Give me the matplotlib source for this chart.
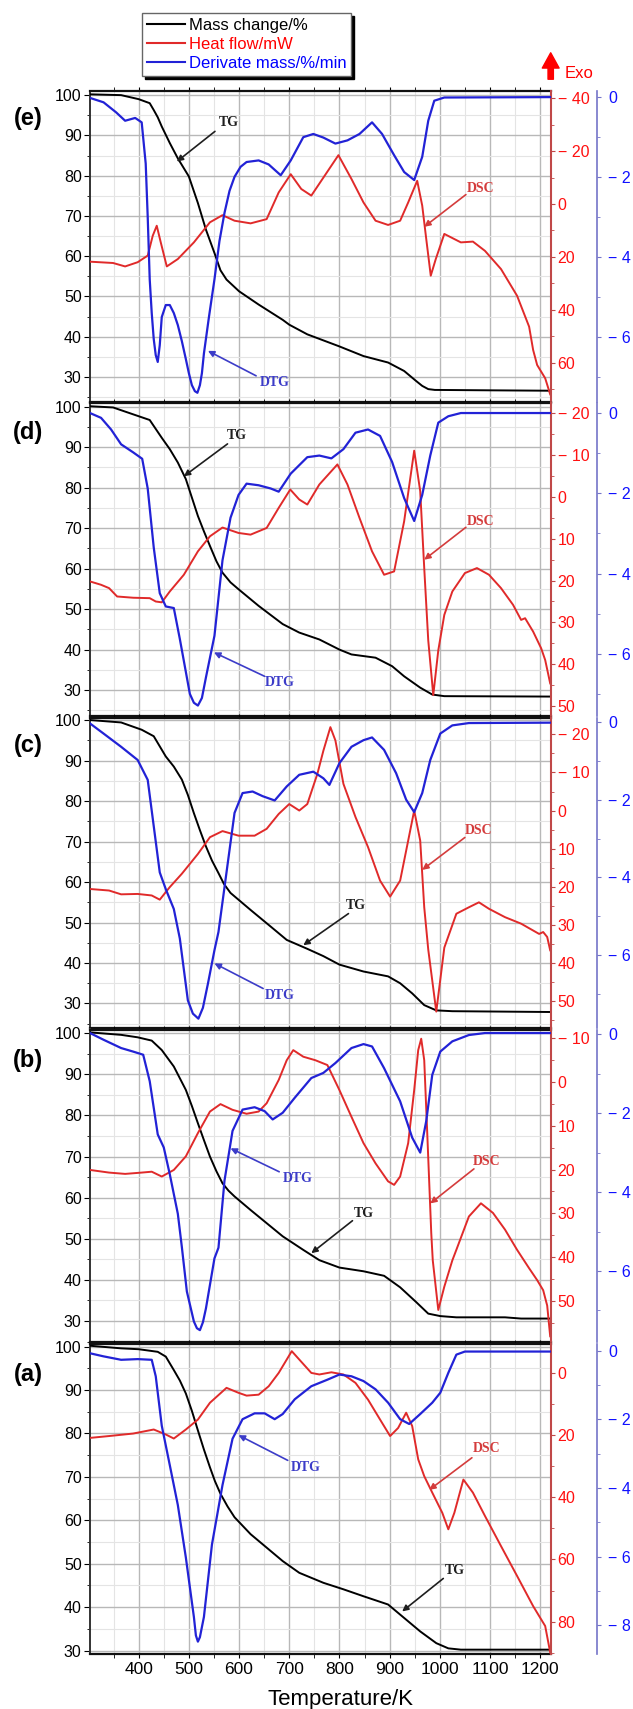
import matplotlib
matplotlib.use('Agg')
import matplotlib.pyplot as plt
from matplotlib.lines import Line2D
from matplotlib.patches import FancyArrowPatch
from matplotlib.ticker import MultipleLocator, FixedLocator, FuncFormatter

plt.rcParams['font.family'] = ['Liberation Sans', 'DejaVu Sans']

# ---- data (temperature in K) ----
# panel (e)
e_tg_x = [303, 365, 400, 422, 430, 438, 446, 462, 478, 500, 518, 534, 551, 563, 575, 600, 639, 687, 700, 736, 800, 848, 897, 929, 953, 965, 977, 990, 1100, 1221]
e_tg_y = [100.2, 100, 99.0, 98.0, 96.3, 94.5, 92.2, 88.1, 84.3, 79.8, 73.2, 66.6, 60.8, 56.5, 54.2, 51.3, 48.0, 44.2, 43.0, 40.6, 37.6, 35.2, 33.6, 31.5, 29.0, 27.8, 27.0, 26.8, 26.7, 26.6]
e_dsc_x = [303, 349, 373, 398, 418, 428, 436, 444, 456, 478, 510, 542, 567, 591, 623, 655, 679, 703, 724, 744, 768, 798, 824, 848, 872, 897, 921, 937, 955, 965, 973, 982, 992, 1009, 1042, 1066, 1090, 1122, 1154, 1178, 1186, 1194, 1210, 1220]
e_dsc_y = [21.8, 22.3, 23.6, 22.0, 19.5, 12.0, 8.2, 14.5, 23.6, 20.8, 14.5, 6.9, 4.2, 6.3, 7.3, 5.7, -4.4, -11.3, -5.7, -3.2, -10.0, -18.5, -9.5, -0.6, 6.3, 7.9, 6.3, -0.6, -8.8, 0.6, 13.2, 27.1, 20.8, 11.3, 14.5, 14.2, 17.7, 24.6, 34.7, 46.4, 55.2, 60.9, 65.9, 72.0]
e_dtg_x = [303, 330, 355, 373, 393, 406, 414, 418, 422, 426, 430, 434, 438, 442, 446, 454, 462, 470, 478, 486, 494, 500, 506, 512, 517, 522, 526, 530, 540, 551, 561, 571, 581, 591, 603, 615, 639, 659, 683, 703, 728, 748, 768, 792, 816, 840, 865, 885, 909, 929, 949, 965, 977, 989, 1009, 1221]
e_dtg_y = [-0.03, -0.14, -0.39, -0.6, -0.53, -0.64, -1.67, -3.0, -4.56, -5.4, -6.05, -6.45, -6.62, -6.2, -5.5, -5.2, -5.2, -5.4, -5.7, -6.1, -6.55, -6.9, -7.2, -7.35, -7.39, -7.2, -6.9, -6.41, -5.5, -4.56, -3.6, -2.9, -2.35, -2.0, -1.75, -1.63, -1.59, -1.69, -1.96, -1.59, -1.01, -0.93, -1.02, -1.17, -1.09, -0.93, -0.64, -0.93, -1.46, -1.88, -2.08, -1.5, -0.6, -0.1, -0.02, -0.01]

# panel (d)
d_tg_x = [303, 349, 389, 422, 446, 462, 478, 494, 518, 530, 542, 555, 567, 583, 599, 639, 687, 720, 760, 800, 824, 872, 905, 929, 961, 985, 1009, 1221]
d_tg_y = [100.1, 99.8, 98.1, 96.7, 92.3, 89.5, 86.2, 82.1, 73.0, 69.2, 65.6, 61.8, 59.0, 56.6, 54.9, 50.8, 46.3, 44.2, 42.5, 40.0, 38.8, 38.0, 35.9, 33.4, 30.6, 28.9, 28.5, 28.4]
d_dsc_x = [303, 325, 341, 357, 389, 422, 434, 446, 462, 490, 518, 542, 567, 599, 623, 655, 679, 702, 720, 736, 760, 796, 816, 840, 865, 889, 909, 929, 949, 961, 969, 977, 987, 997, 1009, 1025, 1050, 1074, 1098, 1122, 1146, 1162, 1170, 1186, 1202, 1210, 1220]
d_dsc_y = [20.2, 21.0, 21.8, 23.8, 24.1, 24.2, 25.0, 25.2, 22.6, 18.6, 13.0, 9.4, 7.3, 8.6, 9.0, 7.4, 2.6, -1.8, 0.6, 1.8, -3.0, -7.8, -3.0, 5.0, 13.0, 18.6, 17.8, 5.8, -11.1, -1.4, 17.0, 34.3, 47.4, 36.7, 28.2, 22.6, 18.2, 17.0, 18.6, 21.8, 25.8, 29.4, 29.0, 32.2, 36.2, 39.0, 44.6]
d_dtg_x = [303, 325, 345, 365, 389, 407, 418, 430, 442, 454, 470, 482, 502, 510, 518, 526, 534, 551, 567, 583, 599, 615, 639, 663, 679, 703, 736, 760, 784, 808, 832, 857, 881, 905, 929, 949, 965, 981, 997, 1017, 1042, 1221]
d_dtg_y = [0.0, -0.12, -0.41, -0.78, -0.98, -1.14, -1.88, -3.35, -4.49, -4.82, -4.86, -5.63, -7.0, -7.22, -7.29, -7.1, -6.59, -5.55, -3.67, -2.61, -2.04, -1.76, -1.8, -1.88, -1.96, -1.51, -1.1, -1.06, -1.13, -0.9, -0.49, -0.41, -0.57, -1.22, -2.12, -2.69, -2.04, -1.06, -0.24, -0.08, 0.0, 0.0]

# panel (c)
c_tg_x = [303, 365, 406, 430, 454, 470, 486, 498, 510, 522, 534, 546, 559, 570, 583, 623, 663, 695, 736, 768, 800, 848, 897, 921, 945, 969, 993, 1025, 1221]
c_tg_y = [100.0, 99.4, 97.6, 96.0, 91.0, 88.5, 85.3, 81.5, 77.0, 72.8, 68.8, 65.3, 62.2, 59.5, 57.3, 53.1, 49.0, 45.7, 43.5, 41.7, 39.6, 37.9, 36.7, 35.0, 32.5, 29.6, 28.3, 28.1, 27.9]
c_dsc_x = [303, 341, 365, 398, 426, 442, 462, 486, 518, 542, 567, 599, 631, 655, 679, 700, 720, 736, 756, 768, 782, 792, 808, 832, 857, 881, 901, 921, 937, 949, 961, 969, 977, 993, 1009, 1033, 1058, 1078, 1098, 1130, 1162, 1186, 1198, 1206, 1214, 1220]
c_dsc_y = [20.6, 21.0, 22.0, 21.9, 22.3, 23.4, 20.1, 16.6, 11.4, 7.0, 5.4, 6.6, 6.6, 4.8, 0.9, -1.7, 0.0, -1.7, -9.6, -15.7, -21.9, -18.4, -7.0, 1.7, 9.6, 18.4, 22.6, 18.4, 7.9, 0.0, 7.9, 25.4, 36.5, 52.8, 36.0, 27.1, 25.4, 24.1, 25.8, 28.0, 29.7, 31.5, 32.4, 31.9, 33.2, 36.7]
c_dtg_x = [303, 330, 365, 398, 418, 430, 442, 454, 470, 482, 498, 508, 519, 528, 538, 551, 559, 575, 591, 607, 627, 647, 671, 695, 720, 748, 768, 780, 800, 824, 848, 865, 889, 913, 933, 949, 965, 981, 1001, 1025, 1058, 1221]
c_dtg_y = [-0.04, -0.3, -0.64, -0.98, -1.49, -2.68, -3.87, -4.3, -4.81, -5.57, -7.16, -7.5, -7.63, -7.35, -6.73, -5.87, -5.4, -3.87, -2.34, -1.83, -1.79, -1.91, -2.02, -1.66, -1.36, -1.28, -1.45, -1.62, -1.06, -0.64, -0.47, -0.4, -0.72, -1.32, -2.0, -2.32, -1.83, -0.98, -0.3, -0.09, -0.03, -0.02]

# panel (b)
b_tg_x = [303, 365, 398, 426, 446, 470, 494, 506, 518, 530, 542, 555, 567, 579, 591, 623, 655, 687, 728, 760, 800, 848, 889, 921, 953, 977, 1001, 1033, 1130, 1162, 1221]
b_tg_y = [100.2, 99.6, 99.0, 98.2, 95.9, 91.9, 86.2, 82.3, 78.1, 74.0, 70.0, 66.4, 63.5, 61.7, 60.3, 57.0, 53.8, 50.6, 47.3, 44.8, 43.0, 42.1, 41.0, 38.2, 34.6, 31.8, 31.2, 30.9, 30.9, 30.6, 30.6]
b_dsc_x = [303, 341, 373, 406, 426, 446, 470, 494, 518, 542, 563, 587, 615, 639, 655, 679, 695, 708, 728, 752, 776, 800, 824, 848, 872, 897, 909, 921, 937, 949, 957, 963, 969, 975, 983, 986, 997, 1009, 1025, 1033, 1058, 1082, 1106, 1130, 1154, 1178, 1194, 1206, 1214, 1220]
b_dsc_y = [20.1, 20.7, 21.0, 20.7, 20.5, 21.6, 20.1, 17.0, 11.7, 6.8, 5.1, 6.4, 7.3, 6.8, 4.9, -0.4, -4.9, -7.2, -5.7, -4.9, -3.8, 1.9, 8.0, 14.0, 18.6, 22.7, 23.5, 21.6, 14.0, 1.9, -7.2, -9.8, -4.9, 11.7, 34.5, 40.7, 52.0, 46.7, 40.7, 38.3, 30.7, 27.7, 29.9, 33.7, 38.3, 42.5, 45.2, 47.5, 51.0, 58.0]
b_dtg_x = [303, 330, 365, 389, 409, 422, 438, 450, 462, 478, 486, 496, 510, 516, 522, 528, 534, 551, 559, 571, 587, 607, 631, 651, 667, 687, 711, 744, 768, 792, 824, 848, 865, 889, 921, 945, 961, 973, 985, 1001, 1025, 1058, 1090, 1221]
b_dtg_y = [0.03, -0.14, -0.35, -0.44, -0.52, -1.19, -2.54, -2.87, -3.55, -4.55, -5.39, -6.52, -7.28, -7.45, -7.5, -7.3, -6.95, -5.68, -5.41, -3.71, -2.45, -1.91, -1.85, -1.95, -2.16, -1.99, -1.61, -1.11, -0.98, -0.73, -0.35, -0.25, -0.31, -0.86, -1.7, -2.62, -3.0, -2.2, -1.03, -0.44, -0.18, -0.02, 0.03, 0.03]

# panel (a)
a_tg_x = [303, 365, 400, 438, 454, 470, 482, 494, 506, 518, 530, 542, 552, 563, 577, 591, 623, 655, 687, 720, 768, 808, 848, 897, 929, 961, 993, 1017, 1042, 1221]
a_tg_y = [100.2, 99.6, 99.4, 98.8, 97.7, 94.6, 92.2, 89.2, 85.2, 80.7, 76.3, 72.2, 69.0, 66.1, 63.2, 60.7, 56.8, 53.7, 50.6, 47.9, 45.6, 44.1, 42.5, 40.6, 37.5, 34.4, 31.7, 30.5, 30.2, 30.2]
a_dsc_x = [303, 341, 389, 430, 454, 470, 494, 518, 542, 575, 599, 615, 639, 659, 679, 695, 705, 720, 744, 760, 784, 808, 832, 857, 881, 901, 917, 933, 945, 957, 969, 985, 1005, 1017, 1029, 1047, 1066, 1090, 1122, 1154, 1186, 1210, 1220]
a_dsc_y = [20.9, 20.3, 19.5, 18.2, 19.8, 21.1, 18.2, 15.0, 9.6, 4.8, 6.4, 7.3, 7.0, 4.3, 0.0, -4.3, -7.0, -4.3, 0.0, 0.5, -0.2, 0.5, 3.2, 8.6, 15.0, 20.3, 17.7, 12.8, 17.1, 27.8, 33.2, 38.5, 45.0, 50.3, 45.0, 34.3, 38.5, 46.0, 55.7, 65.3, 75.0, 81.4, 89.9]
a_dtg_x = [303, 330, 365, 398, 426, 434, 446, 462, 478, 494, 510, 514, 518, 522, 530, 546, 567, 587, 607, 631, 651, 671, 687, 711, 744, 776, 800, 824, 848, 872, 897, 921, 939, 961, 985, 1001, 1017, 1033, 1050, 1221]
a_dtg_y = [-0.08, -0.17, -0.27, -0.25, -0.27, -0.75, -2.19, -3.34, -4.5, -6.03, -7.76, -8.3, -8.48, -8.35, -7.76, -5.65, -3.92, -2.57, -2.0, -1.83, -1.83, -2.0, -1.85, -1.42, -1.04, -0.85, -0.7, -0.75, -0.89, -1.13, -1.52, -2.0, -2.14, -1.85, -1.52, -1.23, -0.65, -0.12, -0.03, -0.03]

panel_labels = ['(e)', '(d)', '(c)', '(b)', '(a)']
red_ticks = [[-40, -20, 0, 20, 40, 60], list(range(-20, 51, 10)), list(range(-20, 51, 10)),
             list(range(-10, 51, 10)), [0, 20, 40, 60, 80]]
blue_ticks = [[0, -2, -4, -6], [0, -2, -4, -6], [0, -2, -4, -6], [0, -2, -4, -6], [0, -2, -4, -6, -8]]
legend_labels = ['Mass change/%', 'Heat flow/mW', 'Derivate mass/%/min']

# ---- layout (figure pixels) ----
W, H = 633, 1709
L, R = 90, 550.7
rows = [(90.7, 402), (403, 716), (718, 1028), (1029.5, 1342), (1344, 1654)]
tg_lims = [(23.8, 101.1), (23.6, 100.9), (23.95, 100.5), (24.9, 100.9), (29.2, 100.6)]
red_lims = [(74.9, -42.9), (52.4, -22.5), (57.1, -24.3), (59.3, -11.9), (90.4, -9.3)]
blue_lims = [(-7.62, 0.15), (-7.55, 0.25), (-7.87, 0.1), (-7.8, 0.12), (-8.84, 0.19)]
label_y = [118, 432, 746, 1060, 1375]

# text annotations: (text, colour, text pos, arrow tail, arrow head) in (K, mass %)
notes = [
    [('TG', 'k', (579, 93.1), (552, 91.0), (476, 83.5)),
     ('DSC', 'r', (1082, 76.9), (1052, 75.3), (969, 67.3)),
     ('DTG', 'b', (671, 28.6), (634, 30.3), (538, 36.5))],
    [('TG', 'k', (595, 92.8), (577, 90.8), (490, 82.8)),
     ('DSC', 'r', (1082, 71.6), (1052, 70.2), (969, 62.2)),
     ('DTG', 'b', (682, 31.8), (651, 33.4), (550, 39.3))],
    [('DSC', 'r', (1078, 72.7), (1050, 71.0), (965, 63.0)),
     ('TG', 'k', (832, 54.1), (818, 52.2), (728, 44.4)),
     ('DTG', 'b', (682, 31.9), (648, 33.7), (551, 39.9))],
    [('DTG', 'b', (716, 64.7), (680, 66.3), (583, 72.0)),
     ('DSC', 'r', (1094, 68.9), (1068, 67.0), (981, 58.6)),
     ('TG', 'k', (848, 56.2), (826, 54.4), (744, 46.5))],
    [('DTG', 'b', (732, 72.2), (697, 73.8), (599, 79.6)),
     ('DSC', 'r', (1094, 76.5), (1064, 74.4), (979, 67.0)),
     ('TG', 'k', (1029, 48.5), (1007, 46.6), (925, 39.0))],
]
note_col = {'k': '#1e1e1e', 'r': '#d43c3c', 'b': '#3c3cc8'}

series = [
    (e_tg_x, e_tg_y, e_dsc_x, e_dsc_y, e_dtg_x, e_dtg_y),
    (d_tg_x, d_tg_y, d_dsc_x, d_dsc_y, d_dtg_x, d_dtg_y),
    (c_tg_x, c_tg_y, c_dsc_x, c_dsc_y, c_dtg_x, c_dtg_y),
    (b_tg_x, b_tg_y, b_dsc_x, b_dsc_y, b_dtg_x, b_dtg_y),
    (a_tg_x, a_tg_y, a_dsc_x, a_dsc_y, a_dtg_x, a_dtg_y),
]


def signed(v, pos):
    if abs(v) < 1e-9:
        return '0'
    return '\u2212 %d' % abs(v) if v < 0 else '%d' % v


TG_C, DSC_C, DTG_C = 'black', '#e02a2a', '#2222d6'

fig = plt.figure(figsize=(W / 100, H / 100), dpi=100)

for i, (tgx, tgy, dscx, dscy, dtgx, dtgy) in enumerate(series):
    top, bot = rows[i]
    last = i == len(series) - 1
    ax = fig.add_axes([L / W, 1 - bot / H, (R - L) / W, (bot - top) / H])
    ax.plot(tgx, tgy, color=TG_C, lw=1.4, zorder=3)
    ax.set_xlim(303, 1221)
    ax.set_ylim(*tg_lims[i])
    ax.xaxis.set_major_locator(MultipleLocator(100))
    ax.xaxis.set_minor_locator(MultipleLocator(50))
    ax.yaxis.set_major_locator(MultipleLocator(10))
    ax.yaxis.set_minor_locator(MultipleLocator(5))
    ax.grid(which='major', color='#b8b8b8', lw=1.0)
    ax.grid(which='minor', color='#e4e4e4', lw=0.8)
    ax.set_axisbelow(True)
    ax.tick_params(axis='x', which='both', top=True, bottom=last, labelbottom=last,
                   direction='out', labelsize=12.5, pad=3, length=3)
    ax.tick_params(axis='y', which='major', length=4, labelsize=11.5, pad=2)
    ax.tick_params(axis='y', which='minor', length=2.5)
    for s in ('top', 'bottom'):
        ax.spines[s].set_linewidth(1.6)
        ax.spines[s].set_color('#111111')
    ax.spines['left'].set_linewidth(1.4)
    ax.spines['left'].set_color('#333333')
    ax.spines['right'].set_visible(False)

    red = ax.twinx()
    red.plot(dscx, dscy, color=DSC_C, lw=1.4)
    red.set_ylim(*red_lims[i])
    red.yaxis.set_major_locator(FixedLocator(red_ticks[i]))
    step = red_ticks[i][1] - red_ticks[i][0]
    red.yaxis.set_minor_locator(MultipleLocator(step / 2))
    red.yaxis.set_major_formatter(FuncFormatter(signed))
    red.tick_params(axis='y', which='major', colors='#c04848', labelcolor='#ff1010',
                    length=3, labelsize=11.5, pad=2)
    red.tick_params(axis='y', which='minor', colors='#c04848', length=2)
    for s in ('top', 'bottom', 'left'):
        red.spines[s].set_visible(False)
    red.spines['right'].set_color('#c04848')
    red.spines['right'].set_linewidth(1.5)

    blue = ax.twinx()
    blue.plot(dtgx, dtgy, color=DTG_C, lw=1.6)
    blue.set_ylim(*blue_lims[i])
    blue.yaxis.set_major_locator(FixedLocator(blue_ticks[i]))
    blue.yaxis.set_minor_locator(MultipleLocator(1))
    blue.yaxis.set_major_formatter(FuncFormatter(signed))
    blue.spines['right'].set_position(('axes', 1.10))
    for s in ('top', 'bottom', 'left'):
        blue.spines[s].set_visible(False)
    blue.spines['right'].set_color('#7474c8')
    blue.spines['right'].set_linewidth(1.2)
    blue.tick_params(axis='y', which='major', colors='#7474c8', labelcolor='#1010ff',
                     length=3, labelsize=11.5, pad=5)
    blue.tick_params(axis='y', which='minor', colors='#7474c8', length=2)

    for txt, c, tpos, tail, head in notes[i]:
        blue.annotate('', xy=head, xytext=tail, xycoords=ax.transData, textcoords=ax.transData,
                      arrowprops=dict(arrowstyle='-|>', color=note_col[c], lw=1.2,
                                      mutation_scale=9, shrinkA=0, shrinkB=0))
        blue.text(tpos[0], tpos[1], txt, transform=ax.transData, ha='center', va='center',
                  color=note_col[c], fontsize=10, fontweight='bold',
                  family=['Liberation Serif', 'DejaVu Serif'])

    fig.text(28 / W, 1 - label_y[i] / H, panel_labels[i], ha='center', va='center',
             fontsize=17, fontweight='bold')

fig.text(341 / W, 1 - 1700 / H, 'Temperature/K', ha='center', va='center', fontsize=16)

handles = [Line2D([], [], color=TG_C, lw=1.5), Line2D([], [], color=DSC_C, lw=1.5),
           Line2D([], [], color=DTG_C, lw=1.5)]
leg = fig.legend(handles, legend_labels, loc='upper left', bbox_to_anchor=(142 / W, 1 - 13 / H),
                 borderaxespad=0, fontsize=12, frameon=True, fancybox=False,
                 edgecolor='#666666', framealpha=1, labelcolor=[TG_C, 'red', 'blue'],
                 handlelength=2.3, handletextpad=0.2, labelspacing=0.25, borderpad=0.3,
                 shadow={'color': 'black', 'alpha': 1})

# Exo arrow
fig.add_artist(FancyArrowPatch(
    (R / W, 1 - 82 / H), (R / W, 1 - 50 / H), transform=fig.transFigure,
    arrowstyle='simple,head_width=1.1,head_length=1.0,tail_width=0.35',
    mutation_scale=11, color='red'))
fig.text(565 / W, 1 - 73 / H, 'Exo', color='red', fontsize=12, ha='left', va='center')

fig.savefig('out.png', dpi=100)
